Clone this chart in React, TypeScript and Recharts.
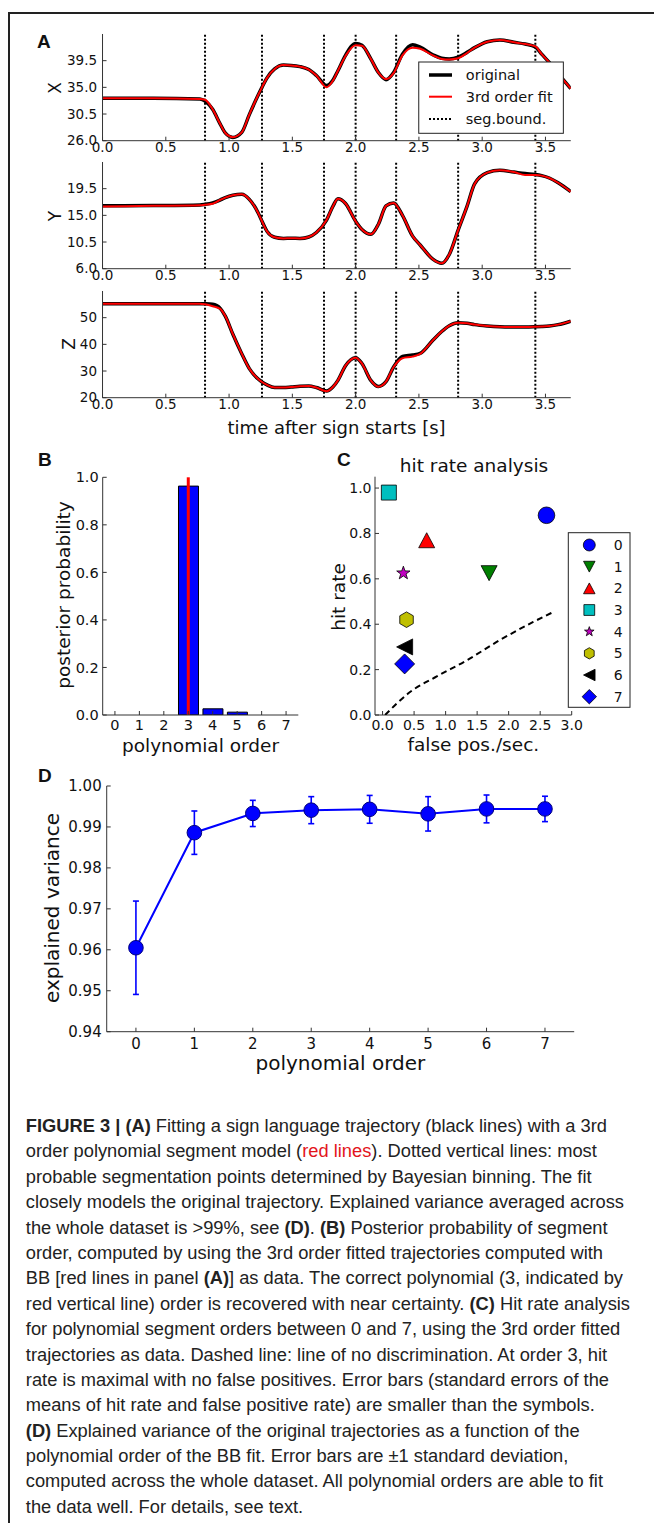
import React from 'react';
import {
  LineChart,
  Line,
  BarChart,
  Bar,
  ScatterChart,
  Scatter,
  XAxis,
  YAxis,
  ReferenceLine,
  ErrorBar,
} from 'recharts';

// ---- panel A: trajectory (time in s) ----
const timeS = [
  0, 0.4, 0.77, 0.81, 0.87, 0.93, 0.97, 1.03, 1.1, 1.16, 1.23, 1.26, 1.3, 1.36, 1.43, 1.49,
  1.56, 1.63, 1.69, 1.77, 1.82, 1.86, 1.92, 2.0, 2.05, 2.12, 2.18, 2.24, 2.3, 2.37, 2.45, 2.51,
  2.61, 2.68, 2.74, 2.81, 2.88, 2.94, 3.04, 3.14, 3.25, 3.34, 3.42, 3.47, 3.53, 3.6, 3.7,
];
const xOriginal = [
  33.15, 33.15, 33.05, 32.7, 31.3, 28.8, 27.3, 26.55, 27.4, 30.4, 33.7, 35.0, 36.6, 38.1, 38.75, 38.7,
  38.5, 38.0, 37.0, 35.3, 36.2, 37.8, 40.4, 42.4, 42.1, 39.8, 37.5, 36.3, 37.5, 40.6, 42.2, 41.8,
  40.5, 39.9, 39.8, 40.1, 40.9, 41.7, 42.7, 43.0, 42.6, 42.3, 41.8, 40.6, 39.2, 37.3, 34.8,
];
const xFit = [
  33.15, 33.15, 33.05, 32.9, 31.3, 28.8, 27.3, 26.6, 27.4, 30.4, 33.7, 35.0, 36.6, 38.1, 38.75, 38.7,
  38.5, 38.0, 37.0, 35.0, 36.1, 37.8, 40.3, 42.1, 42.0, 39.8, 37.5, 36.4, 37.4, 40.4, 41.7, 41.5,
  40.4, 39.8, 39.7, 39.9, 40.8, 41.7, 42.7, 43.0, 42.6, 42.3, 41.9, 40.6, 39.2, 37.3, 34.8,
];
const yOriginal = [
  16.6, 16.65, 16.75, 16.85, 17.1, 17.6, 18.0, 18.4, 18.55, 17.7, 15.4, 14.0, 12.3, 11.3, 11.1, 11.15,
  11.1, 11.35, 12.1, 14.2, 16.5, 17.8, 17.0, 14.0, 12.6, 11.8, 13.5, 16.6, 17.1, 15.0, 11.5, 10.0,
  7.6, 6.9, 8.4, 12.5, 16.5, 20.3, 22.2, 22.6, 22.3, 22.05, 21.9, 21.7, 21.3, 20.5, 19.0,
];
const yFit = [
  16.5, 16.6, 16.7, 16.8, 16.95, 17.6, 18.0, 18.4, 18.55, 17.7, 15.4, 14.0, 12.3, 11.3, 11.1, 11.15,
  11.1, 11.35, 12.1, 14.2, 16.5, 17.8, 17.0, 14.0, 12.6, 11.8, 13.5, 16.6, 17.1, 15.0, 11.5, 10.0,
  7.6, 6.9, 8.4, 12.5, 16.5, 20.3, 22.2, 22.6, 22.3, 21.8, 21.8, 21.7, 21.3, 20.5, 19.0,
];
const zOriginal = [
  55.25, 55.25, 55.25, 55.2, 55.0, 53.5, 50.6, 43.8, 36.5, 30.9, 27.0, 25.9, 24.8, 23.8, 23.8, 24.0,
  24.3, 24.4, 23.8, 22.5, 24.0, 26.5, 32.0, 35.0, 32.8, 26.5, 24.2, 26.0, 31.5, 35.5, 36.0, 36.6,
  41.5, 44.8, 47.0, 48.1, 47.9, 47.4, 46.9, 46.6, 46.5, 46.5, 46.6, 46.7, 46.9, 47.4, 48.7,
];
const zFit = [
  55.25, 55.25, 55.25, 55.0, 54.3, 53.3, 50.6, 43.8, 36.5, 30.9, 27.0, 25.9, 24.8, 23.8, 23.8, 24.0,
  24.3, 24.4, 23.8, 22.4, 24.0, 26.5, 32.0, 35.0, 32.8, 26.5, 24.1, 26.0, 31.5, 34.8, 35.4, 36.4,
  41.5, 44.8, 47.0, 48.1, 47.9, 47.4, 46.9, 46.6, 46.5, 46.5, 46.6, 46.7, 46.9, 47.4, 48.7,
];
const segBounds = [0.81, 1.26, 1.75, 2.0, 2.32, 2.81, 3.42];
const timeTicks = [0, 0.5, 1, 1.5, 2, 2.5, 3, 3.5];
const xTicks = [26, 30.5, 35, 39.5];
const yTicks = [6, 10.5, 15, 19.5];
const zTicks = [20, 30, 40, 50];

// ---- panel B: posterior of segment order ----
const orders = [0, 1, 2, 3, 4, 5, 6, 7];
const posterior = [0, 0, 0, 0.963, 0.026, 0.012, 0, 0];
const probTicks = [0, 0.2, 0.4, 0.6, 0.8, 1.0];

// ---- panel C: hit rate analysis ----
const falsePosPerSec = [2.6, 1.69, 0.7, 0.1, 0.33, 0.38, 0.35, 0.35];
const hitRate = [0.88, 0.625, 0.77, 0.98, 0.625, 0.42, 0.3, 0.225];
const chanceFalsePos = [0.04, 0.43, 0.86, 1.33, 1.86, 2.39, 2.68];
const chanceHitRate = [0, 0.1, 0.17, 0.24, 0.33, 0.41, 0.45];
const fpTicks = [0, 0.5, 1, 1.5, 2, 2.5, 3];

// ---- panel D: explained variance ----
const explainedVar = [0.9605, 0.9886, 0.9933, 0.9941, 0.9943, 0.9932, 0.9944, 0.9944];
const explainedSd = [0.0114, 0.0053, 0.0032, 0.0033, 0.0034, 0.0042, 0.0034, 0.0031];
const evTicks = [0.94, 0.95, 0.96, 0.97, 0.98, 0.99, 1.0];

type Kind = 'circle' | 'triDown' | 'triUp' | 'square' | 'star' | 'hexagon' | 'triLeft' | 'diamond';
const markerKinds: Kind[] = ['circle', 'triDown', 'triUp', 'square', 'star', 'hexagon', 'triLeft', 'diamond'];
const markerColors = ['#0000ff', '#007f00', '#ff0000', '#00bfbf', '#bf00bf', '#bfbf00', '#000000', '#0000ff'];

const FRAME = '#333';
const tickFont = (size: number) => ({ fontSize: size, fill: '#111', fontFamily: 'DejaVu Sans' });

function Marker({ kind, cx, cy, fill, s = 1 }: { kind: Kind; cx: number; cy: number; fill: string; s?: number }) {
  const common = { fill, stroke: '#000', strokeWidth: 0.8 };
  const pts = (arr: number[][]) => arr.map(([a, b]) => `${cx + a * s},${cy + b * s}`).join(' ');
  if (kind === 'circle') return <circle cx={cx} cy={cy} r={8.3 * s} {...common} />;
  if (kind === 'triDown') return <polygon points={pts([[-8, -7.5], [8, -7.5], [0, 7.5]])} {...common} />;
  if (kind === 'triUp') return <polygon points={pts([[-8, 7.5], [8, 7.5], [0, -7.5]])} {...common} />;
  if (kind === 'triLeft') return <polygon points={pts([[-8, 0], [8, -8], [8, 8]])} {...common} />;
  if (kind === 'square') return <polygon points={pts([[-7.5, -7.5], [7.5, -7.5], [7.5, 7.5], [-7.5, 7.5]])} {...common} />;
  if (kind === 'diamond') return <polygon points={pts([[0, -10], [10, 0], [0, 10], [-10, 0]])} {...common} />;
  if (kind === 'hexagon') {
    const h: number[][] = [];
    for (let k = 0; k < 6; k++) {
      const a = -Math.PI / 2 + (k * Math.PI) / 3;
      h.push([7.8 * Math.cos(a), 7.8 * Math.sin(a)]);
    }
    return <polygon points={pts(h)} {...common} />;
  }
  const st: number[][] = [];
  for (let k = 0; k < 10; k++) {
    const a = -Math.PI / 2 + (k * Math.PI) / 5;
    const r = k % 2 === 0 ? 7 : 2.8;
    st.push([r * Math.cos(a), r * Math.sin(a)]);
  }
  return <polygon points={pts(st)} {...common} />;
}

function TrajectoryPanel({ top, orig, fit, domain, ticks, digits }: {
  top: number; orig: number[]; fit: number[]; domain: [number, number]; ticks: number[]; digits: number;
}) {
  const data = timeS.map((t, i) => ({ t, orig: orig[i], fit: fit[i] }));
  return (
    <div style={{ position: 'absolute', left: 0, top: top - 10 }}>
      <LineChart width={654} height={136.7} data={data} margin={{ top: 10, right: 83.2, bottom: 0, left: 0 }}>
        <XAxis dataKey="t" type="number" domain={[0, 3.7]} ticks={timeTicks} interval={0} allowDataOverflow
          tickFormatter={(v: number) => v.toFixed(1)} height={20} tickSize={-4} tickMargin={6}
          stroke={FRAME} tick={tickFont(13.5)} />
        <XAxis xAxisId="top" orientation="top" type="number" domain={[0, 3.7]} ticks={timeTicks} interval={0}
          allowDataOverflow height={0} tickSize={-4} tick={false} stroke={FRAME} />
        <YAxis type="number" domain={domain} ticks={ticks} interval={0} allowDataOverflow width={102.5}
          tickFormatter={(v: number) => v.toFixed(digits)} tickSize={-4} tickMargin={9.5}
          stroke={FRAME} tick={tickFont(13.5)} />
        <YAxis yAxisId="r" orientation="right" type="number" domain={domain} ticks={ticks} interval={0}
          allowDataOverflow width={0} tickSize={-4} tick={false} stroke={FRAME} />
        {segBounds.map((b) => (
          <ReferenceLine key={b} x={b} stroke="#000" strokeWidth={2} strokeDasharray="2 2" />
        ))}
        <Line dataKey="orig" type="monotone" stroke="#000" strokeWidth={3.5} dot={false} isAnimationActive={false} />
        <Line dataKey="fit" type="monotone" stroke="#ff0000" strokeWidth={2} dot={false} isAnimationActive={false} />
      </LineChart>
    </div>
  );
}

const captionLines: [string, string][][] = [
  [['FIGURE 3 | (A)', 'b'], [' Fitting a sign language trajectory (black lines) with a 3rd', '']],
  [['order polynomial segment model (', ''], ['red lines', 'r'], ['). Dotted vertical lines: most', '']],
  [['probable segmentation points determined by Bayesian binning. The fit', '']],
  [['closely models the original trajectory. Explained variance averaged across', '']],
  [['the whole dataset is >99%, see ', ''], ['(D)', 'b'], ['. ', ''], ['(B)', 'b'], [' Posterior probability of segment', '']],
  [['order, computed by using the 3rd order fitted trajectories computed with', '']],
  [['BB [red lines in panel ', ''], ['(A)', 'b'], ['] as data. The correct polynomial (3, indicated by', '']],
  [['red vertical line) order is recovered with near certainty. ', ''], ['(C)', 'b'], [' Hit rate analysis', '']],
  [['for polynomial segment orders between 0 and 7, using the 3rd order fitted', '']],
  [['trajectories as data. Dashed line: line of no discrimination. At order 3, hit', '']],
  [['rate is maximal with no false positives. Error bars (standard errors of the', '']],
  [['means of hit rate and false positive rate) are smaller than the symbols.', '']],
  [['(D)', 'b'], [' Explained variance of the original trajectories as a function of the', '']],
  [['polynomial order of the BB fit. Error bars are \u00b11 standard deviation,', '']],
  [['computed across the whole dataset. All polynomial orders are able to fit', '']],
  [['the data well. For details, see text.', '']],
];

export default function App() {
  const barData = orders.map((o, i) => ({ order: o, p: posterior[i] }));
  const evData = orders.map((o, i) => ({ order: o, ev: explainedVar[i], sd: explainedSd[i] }));
  const chanceData = chanceFalsePos.map((x, i) => ({ x, y: chanceHitRate[i] }));

  const label = { fontFamily: 'DejaVu Sans', fill: '#111' } as const;
  const panelLbl = { fontFamily: 'Liberation Sans', fontWeight: 700, fontSize: 19, fill: '#111' } as const;

  return (
    <div style={{ position: 'absolute', left: 0, top: 0, width: 654, height: 1523, background: '#fff', overflow: 'hidden' }}>
      {/* frame */}
      <div style={{ position: 'absolute', left: 8, top: 12, width: 646, height: 2.2, background: '#222' }} />
      <div style={{ position: 'absolute', left: 8, top: 12, width: 2.2, height: 1511, background: '#222' }} />

      <TrajectoryPanel top={34} orig={xOriginal} fit={xFit} domain={[26, 44]} ticks={xTicks} digits={1} />
      <TrajectoryPanel top={162.3} orig={yOriginal} fit={yFit} domain={[6, 24]} ticks={yTicks} digits={1} />
      <TrajectoryPanel top={290.7} orig={zOriginal} fit={zFit} domain={[20, 60]} ticks={zTicks} digits={0} />

      {/* panel B */}
      <div style={{ position: 'absolute', left: 0, top: 460 }}>
        <BarChart width={310} height={280} data={barData} barCategoryGap="10%"
          margin={{ top: 17.3, right: 11.7, bottom: 0, left: 0 }}>
          <XAxis dataKey="order" interval={0} height={25} tickSize={-4} tickMargin={9} stroke={FRAME} tick={tickFont(14.5)} />
          <XAxis xAxisId="t" dataKey="order" orientation="top" interval={0} height={0} tickSize={-4} tick={false} stroke={FRAME} />
          <YAxis type="number" domain={[0, 1]} ticks={probTicks} interval={0} allowDataOverflow width={102.7}
            tickFormatter={(v: number) => v.toFixed(1)} tickSize={-4} tickMargin={8} stroke={FRAME} tick={tickFont(14.5)} />
          <YAxis yAxisId="r" orientation="right" type="number" domain={[0, 1]} ticks={probTicks} interval={0}
            allowDataOverflow width={0} tickSize={-4} tick={false} stroke={FRAME} />
          <Bar dataKey="p" fill="#0000ff" stroke="#000" strokeWidth={1} isAnimationActive={false} />
          <ReferenceLine x={3} stroke="#ff0000" strokeWidth={3} />
        </BarChart>
      </div>

      {/* panel C */}
      <div style={{ position: 'absolute', left: 320, top: 460 }}>
        <ScatterChart width={334} height={280} margin={{ top: 16.7, right: 82.3, bottom: 0, left: 0 }}>
          <XAxis dataKey="x" type="number" domain={[-0.12, 3.0]} ticks={fpTicks} interval={0} allowDataOverflow
            tickFormatter={(v: number) => v.toFixed(1)} height={25} tickSize={-4} tickMargin={9} stroke={FRAME} tick={tickFont(14)} />
          <XAxis xAxisId="t" orientation="top" type="number" domain={[-0.12, 3.0]} ticks={fpTicks} interval={0}
            allowDataOverflow height={0} tickSize={-4} tick={false} stroke={FRAME} />
          <YAxis dataKey="y" type="number" domain={[0, 1.05]} ticks={probTicks} interval={0} allowDataOverflow width={55}
            tickFormatter={(v: number) => v.toFixed(1)} tickSize={-4} tickMargin={7.5} stroke={FRAME} tick={tickFont(14)} />
          <YAxis yAxisId="r" orientation="right" type="number" domain={[0, 1.05]} ticks={probTicks} interval={0}
            allowDataOverflow width={0} tickSize={-4} tick={false} stroke={FRAME} />
          <Scatter data={chanceData} line={{ stroke: '#000', strokeWidth: 2, strokeDasharray: '6 4' }}
            lineJointType="monotoneX" shape={() => <g />} isAnimationActive={false} />
          {markerKinds.map((k, i) => (
            <Scatter key={k} data={[{ x: falsePosPerSec[i], y: hitRate[i] }]} isAnimationActive={false}
              shape={(p: any) => <Marker kind={k} cx={p.cx} cy={p.cy} fill={markerColors[i]} />} />
          ))}
        </ScatterChart>
      </div>

      {/* panel D */}
      <div style={{ position: 'absolute', left: 0, top: 770 }}>
        <LineChart width={654} height={291.7} data={evData} margin={{ top: 16, right: 79.8, bottom: 0, left: 0 }}>
          <XAxis dataKey="order" type="number" domain={[-0.5, 7.5]} ticks={orders} interval={0} allowDataOverflow
            height={30} tickSize={-4} tickMargin={11} stroke={FRAME} tick={tickFont(15)} />
          <XAxis xAxisId="t" orientation="top" type="number" domain={[-0.5, 7.5]} ticks={orders} interval={0}
            allowDataOverflow height={0} tickSize={-4} tick={false} stroke={FRAME} />
          <YAxis type="number" domain={[0.94, 1.0]} ticks={evTicks} interval={0} allowDataOverflow width={106.7}
            tickFormatter={(v: number) => v.toFixed(2)} tickSize={-4} tickMargin={9} stroke={FRAME} tick={tickFont(15)} />
          <YAxis yAxisId="r" orientation="right" type="number" domain={[0.94, 1.0]} ticks={evTicks} interval={0}
            allowDataOverflow width={0} tickSize={-4} tick={false} stroke={FRAME} />
          <Line dataKey="ev" type="linear" stroke="#0000ff" strokeWidth={2}
            dot={{ r: 7.3, fill: '#0000ff', stroke: '#00007a', strokeWidth: 1 }} isAnimationActive={false}>
            <ErrorBar dataKey="sd" direction="y" width={3} stroke="#0000ff" strokeWidth={1.6} />
          </Line>
        </LineChart>
      </div>

      {/* text + legends overlay */}
      <svg width={654} height={1100} style={{ position: 'absolute', left: 0, top: 0, pointerEvents: 'none' }}>
        <text x={37} y={48} {...panelLbl}>A</text>
        <text x={38} y={466} {...panelLbl}>B</text>
        <text x={337} y={466} {...panelLbl}>C</text>
        <text x={38} y={781.7} {...panelLbl}>D</text>

        <text x={55} y={88} fontSize={17} textAnchor="middle" dominantBaseline="central" transform="rotate(-90 55 88)" {...label}>X</text>
        <text x={55} y={216} fontSize={17} textAnchor="middle" dominantBaseline="central" transform="rotate(-90 55 216)" {...label}>Y</text>
        <text x={69} y={344} fontSize={17} textAnchor="middle" dominantBaseline="central" transform="rotate(-90 69 344)" {...label}>Z</text>
        <text x={336.6} y={427} fontSize={18} textAnchor="middle" dominantBaseline="central" {...label}>time after sign starts [s]</text>

        <text x={63.3} y={595} fontSize={18.5} textAnchor="middle" dominantBaseline="central" transform="rotate(-90 63.3 595)" {...label}>posterior probability</text>
        <text x={200.5} y={745} fontSize={18.5} textAnchor="middle" dominantBaseline="central" {...label}>polynomial order</text>

        <text x={474} y={465.5} fontSize={18.5} textAnchor="middle" dominantBaseline="central" {...label}>hit rate analysis</text>
        <text x={338.3} y={597} fontSize={18.5} textAnchor="middle" dominantBaseline="central" transform="rotate(-90 338.3 597)" {...label}>hit rate</text>
        <text x={473.3} y={744} fontSize={18.5} textAnchor="middle" dominantBaseline="central" {...label}>false pos./sec.</text>

        <text x={51.7} y={908} fontSize={20} textAnchor="middle" dominantBaseline="central" transform="rotate(-90 51.7 908)" {...label}>explained variance</text>
        <text x={340.4} y={1063} fontSize={20} textAnchor="middle" dominantBaseline="central" {...label}>polynomial order</text>

        {/* legend A */}
        <rect x={418.75} y={62} width={144.6} height={71.3} fill="#fff" stroke="#222" strokeWidth={1} />
        <line x1={429} x2={452} y1={75} y2={75} stroke="#000" strokeWidth={3.5} />
        <line x1={429} x2={452} y1={96.7} y2={96.7} stroke="#ff0000" strokeWidth={2} />
        <line x1={429} x2={452} y1={119} y2={119} stroke="#000" strokeWidth={2} strokeDasharray="2 2" />
        <text x={465.8} y={75} fontSize={14.5} dominantBaseline="central" {...label}>original</text>
        <text x={465.8} y={96.7} fontSize={14.5} dominantBaseline="central" {...label}>3rd order fit</text>
        <text x={465.8} y={119} fontSize={14.5} dominantBaseline="central" {...label}>seg.bound.</text>

        {/* legend C */}
        <rect x={568.3} y={532.7} width={61.7} height={174.6} fill="#fff" stroke="#222" strokeWidth={1} />
        {markerKinds.map((k, i) => (
          <g key={k}>
            <Marker kind={k} cx={589.3} cy={545 + i * 21.67} fill={markerColors[i]} s={0.72} />
            <text x={618.3} y={545 + i * 21.67} fontSize={14} textAnchor="middle" dominantBaseline="central" {...label}>{orders[i]}</text>
          </g>
        ))}
      </svg>

      {/* caption */}
      <div style={{ position: 'absolute', left: 25.8, top: 1113, fontFamily: 'Liberation Sans', fontSize: 18.3, color: '#222' }}>
        {captionLines.map((line, li) => (
          <div key={li} style={{ height: 25.4, lineHeight: '25.4px', whiteSpace: 'nowrap' }}>
            {line.map(([t, s], si) => (
              <span key={si} style={{ fontWeight: s === 'b' ? 700 : 400, color: s === 'r' ? '#e3141b' : undefined }}>{t}</span>
            ))}
          </div>
        ))}
      </div>
    </div>
  );
}
